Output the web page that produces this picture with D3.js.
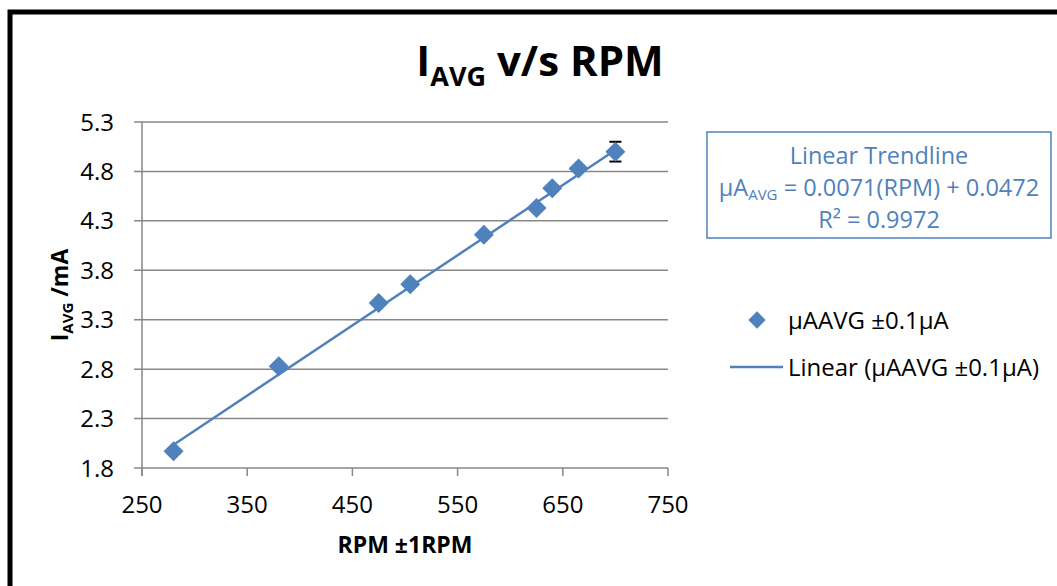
<!DOCTYPE html>
<html>
<head>
<meta charset="utf-8">
<script src="https://cdn.jsdelivr.net/npm/d3@7"></script>
<style>
    body { margin: 0; background: #fff; }
    svg { display: block; font-family: "Open Sans", sans-serif; }
    .tick-label { font-size: 24px; fill: #000; }
    .axis-title { font-size: 23px; font-weight: bold; fill: #000; }
    .legend-text { font-size: 24px; fill: #000; }
    .trend-text { font-size: 23.5px; fill: #4f81bd; }
</style>
</head>
<body>
<div id="chart"></div>
<script>

// data
const rpm = [280, 380, 475, 505, 575, 625, 640, 665, 700];
const iAvg = [1.97, 2.83, 3.47, 3.66, 4.16, 4.43, 4.63, 4.83, 5.00];
const xTicks = [250, 350, 450, 550, 650, 750];
const yTicks = [1.8, 2.3, 2.8, 3.3, 3.8, 4.3, 4.8, 5.3];
const trendSlope = 0.0071;
const trendIntercept = 0.0472;
const errorValue = 0.1;   // only drawn on the last point, as in the picture
const seriesName = "µAAVG ±0.1µA";

const width = 1057, height = 586;
const blue = "#4f81bd";
const gridColor = "#878787";

let svg = d3.select("#chart").append("svg")
    .attr("width", width)
    .attr("height", height);

// outer black frame (only top and left edges are visible)
svg.append("path")
    .attr("d", "M10,586 V12 H1057")
    .attr("fill", "none")
    .attr("stroke", "#000")
    .attr("stroke-width", 5);

let x = d3.scaleLinear()
    .domain([xTicks[0], xTicks[xTicks.length - 1]])
    .range([142, 668]);

let y = d3.scaleLinear()
    .domain([yTicks[0], yTicks[yTicks.length - 1]])
    .range([468, 122]);

// horizontal gridlines with their ticks to the left
svg.append("g").selectAll("line.grid")
    .data(yTicks)
    .enter()
    .append("line")
    .attr("class", "grid")
    .attr("x1", x.range()[0] - 8)
    .attr("x2", x.range()[1])
    .attr("y1", d => y(d))
    .attr("y2", d => y(d))
    .attr("stroke", gridColor)
    .attr("stroke-width", 1.5);

// y axis line
svg.append("line")
    .attr("x1", x.range()[0])
    .attr("x2", x.range()[0])
    .attr("y1", y.range()[1])
    .attr("y2", y.range()[0] + 8)
    .attr("stroke", gridColor)
    .attr("stroke-width", 1.5);

// x tick marks
svg.append("g").selectAll("line.xtick")
    .data(xTicks)
    .enter()
    .append("line")
    .attr("class", "xtick")
    .attr("x1", d => x(d))
    .attr("x2", d => x(d))
    .attr("y1", y.range()[0])
    .attr("y2", y.range()[0] + 8)
    .attr("stroke", gridColor)
    .attr("stroke-width", 1.5);

// tick labels
svg.append("g").selectAll("text")
    .data(yTicks)
    .enter()
    .append("text")
    .attr("class", "tick-label")
    .attr("x", 114)
    .attr("y", d => y(d))
    .attr("dy", "0.36em")
    .attr("text-anchor", "end")
    .text(d => d.toFixed(1));

svg.append("g").selectAll("text")
    .data(xTicks)
    .enter()
    .append("text")
    .attr("class", "tick-label")
    .attr("x", d => x(d))
    .attr("y", 513)
    .attr("text-anchor", "middle")
    .text(d => d);

// axis titles
svg.append("text")
    .attr("class", "axis-title")
    .attr("x", (x.range()[0] + x.range()[1]) / 2)
    .attr("y", 553)
    .attr("text-anchor", "middle")
    .text("RPM ±1RPM");

let yTitle = svg.append("text")
    .attr("class", "axis-title")
    .attr("text-anchor", "middle")
    .attr("transform", "translate(68," + (y.range()[0] + y.range()[1]) / 2 + ") rotate(-90)");
yTitle.append("tspan").text("I");
yTitle.append("tspan").attr("font-size", 15).attr("dy", 5).text("AVG");
yTitle.append("tspan").attr("dy", -5).text(" /mA");

// chart title
let title = svg.append("text")
    .attr("x", 540)
    .attr("y", 76)
    .attr("text-anchor", "middle")
    .attr("font-size", 42)
    .attr("font-weight", "bold");
title.append("tspan").text("I");
title.append("tspan").attr("font-size", 27).attr("dy", 10).text("AVG");
title.append("tspan").attr("dy", -10).text(" v/s RPM");

// trendline over the data range
let xMin = d3.min(rpm), xMax = d3.max(rpm);
svg.append("line")
    .attr("x1", x(xMin))
    .attr("y1", y(trendSlope * xMin + trendIntercept))
    .attr("x2", x(xMax))
    .attr("y2", y(trendSlope * xMax + trendIntercept))
    .attr("stroke", blue)
    .attr("stroke-width", 2.5);

// error bar on the last point
let last = rpm.length - 1;
let eb = svg.append("g")
    .attr("stroke", "#000")
    .attr("stroke-width", 2);
eb.append("line")
    .attr("x1", x(rpm[last])).attr("x2", x(rpm[last]))
    .attr("y1", y(iAvg[last] - errorValue)).attr("y2", y(iAvg[last] + errorValue));
[iAvg[last] - errorValue, iAvg[last] + errorValue].forEach(v => {
    eb.append("line")
        .attr("x1", x(rpm[last]) - 6).attr("x2", x(rpm[last]) + 6)
        .attr("y1", y(v)).attr("y2", y(v));
});

// diamond markers
let diamond = d3.symbol().type(d3.symbolSquare).size(200);
svg.append("g").selectAll("path")
    .data(rpm.map((r, i) => ({rpm: r, i: iAvg[i]})))
    .enter()
    .append("path")
    .attr("d", diamond)
    .attr("transform", d => "translate(" + x(d.rpm) + "," + y(d.i) + ") rotate(45)")
    .attr("fill", blue);

// trendline equation box
let box = svg.append("g");
box.append("rect")
    .attr("x", 707)
    .attr("y", 132)
    .attr("width", 344)
    .attr("height", 106)
    .attr("fill", "#fff")
    .attr("stroke", blue)
    .attr("stroke-width", 1.5);
box.append("text")
    .attr("class", "trend-text")
    .attr("x", 879).attr("y", 164)
    .attr("text-anchor", "middle")
    .text("Linear Trendline");
let eq = box.append("text")
    .attr("class", "trend-text")
    .attr("x", 879).attr("y", 196)
    .attr("text-anchor", "middle");
eq.append("tspan").text("µA");
eq.append("tspan").attr("font-size", 15).attr("dy", 4).text("AVG");
eq.append("tspan").attr("dy", -4).text(" = " + trendSlope.toFixed(4) + "(RPM) + " + trendIntercept.toFixed(4));
box.append("text")
    .attr("class", "trend-text")
    .attr("x", 879).attr("y", 228)
    .attr("text-anchor", "middle")
    .text("R² = 0.9972");

// legend
let legend = svg.append("g");
legend.append("path")
    .attr("d", d3.symbol().type(d3.symbolSquare).size(150))
    .attr("transform", "translate(757,320) rotate(45)")
    .attr("fill", blue);
legend.append("text")
    .attr("class", "legend-text")
    .attr("x", 788).attr("y", 329)
    .text(seriesName);
legend.append("line")
    .attr("x1", 730).attr("x2", 783)
    .attr("y1", 367).attr("y2", 367)
    .attr("stroke", blue)
    .attr("stroke-width", 2.5);
legend.append("text")
    .attr("class", "legend-text")
    .attr("x", 788).attr("y", 376)
    .text("Linear (" + seriesName + ")");

</script>
</body>
</html>
